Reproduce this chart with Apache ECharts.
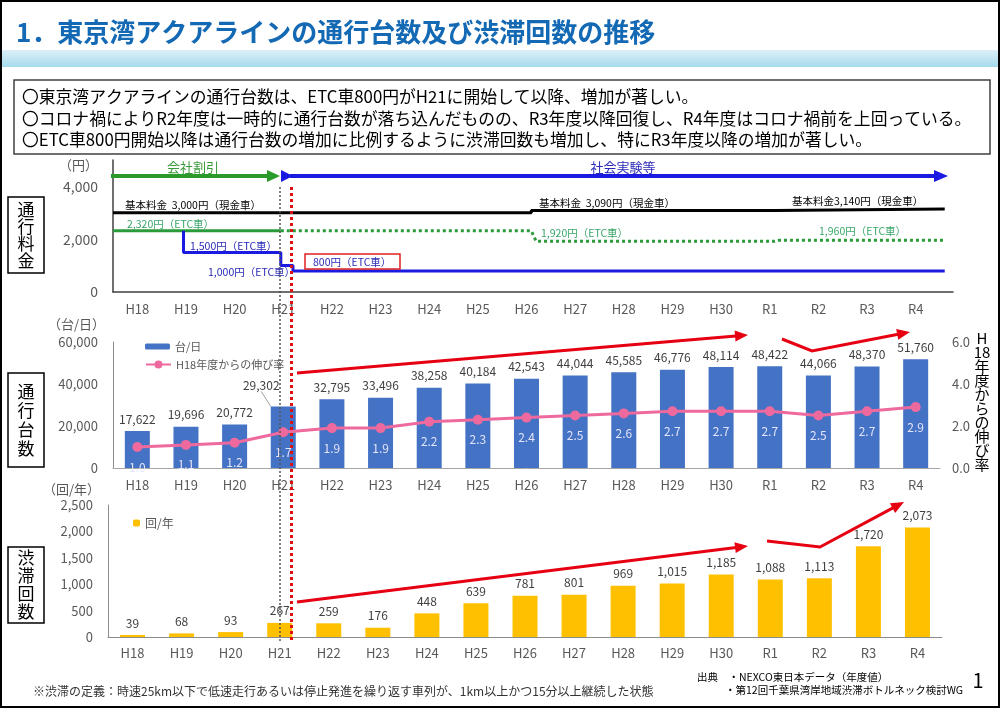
<!DOCTYPE html>
<html><head><meta charset="utf-8">
<script src="https://cdn.jsdelivr.net/npm/echarts@6/dist/echarts.min.js"></script>
<style>html,body{margin:0;padding:0;background:#fff}#c{width:1000px;height:708px}</style>
</head><body><div id="c"></div>
<script>
// ---------- data ----------
const years = ['H18','H19','H20','H21','H22','H23','H24','H25','H26','H27','H28','H29','H30','R1','R2','R3','R4'];
const traffic = [17622,19696,20772,29302,32795,33496,38258,40184,42543,44044,45585,46776,48114,48422,44066,48370,51760];
const growth = [1.0,1.1,1.2,1.7,1.9,1.9,2.2,2.3,2.4,2.5,2.6,2.7,2.7,2.7,2.5,2.7,2.9];
const jams = [39,68,93,267,259,176,448,639,781,801,969,1015,1185,1088,1113,1720,2073];
// toll history: [position on year axis (index), yen]
const tollCash = [[-0.5,3000],[8.1,3000],[8.1,3090],[13.1,3090],[13.1,3140],[16.6,3140]];
const tollEtcSolid = [[-0.5,2320],[2.95,2320]];
const tollEtcDotted = [[2.95,2320],[8.1,2320],[8.2,1920],[13.1,1920],[13.2,1960],[16.6,1960]];
const tollEtcDiscount = [[0.95,2320],[0.95,1500],[2.95,1500],[2.95,1000],[3.2,1000],[3.2,800],[16.6,800]];

const FF = '"Noto Sans CJK JP","Noto Sans",sans-serif';
const GRAY = '#595959';
const fmt = v => Number(v).toLocaleString('en-US');

function arrow(pts, color, w, hl, hw, z) {
  const n = pts.length;
  const [x1,y1] = pts[n-2], [x2,y2] = pts[n-1];
  const dx = x2-x1, dy = y2-y1, L = Math.hypot(dx,dy), ux = dx/L, uy = dy/L;
  const bx = x2-ux*hl, by = y2-uy*hl;
  const line = pts.slice(0,n-1).concat([[bx+ux*1,by+uy*1]]);
  return [
    {type:'polyline', z:z||100, shape:{points:line}, style:{stroke:color, lineWidth:w, fill:null, lineJoin:'miter'}},
    {type:'polygon', z:z||100, shape:{points:[[x2,y2],[bx-uy*hw,by+ux*hw],[bx+uy*hw,by-ux*hw]]}, style:{fill:color}}
  ];
}
function txt(x,y,t,size,color,extra){
  return {type:'text', z:100, x:x, y:y, style:Object.assign({text:t, fontSize:size, fontFamily:FF, fill:color, verticalAlign:'middle', align:'left'}, extra||{})};
}
function vbox(y,h,chars,lh){
  return [
    {type:'rect', z:100, shape:{x:8,y:y,width:36,height:h}, style:{fill:'#fff', stroke:'#000', lineWidth:1.5}},
    {type:'text', z:101, x:26, y:y+h/2, style:{text:chars.split('').join('\n'), fontSize:17, fontFamily:FF, fill:'#000', align:'center', verticalAlign:'middle', lineHeight:lh}}
  ];
}

const graphics = [
  {type:'rect', z:100, shape:{x:1,y:1,width:998,height:706}, style:{fill:'none', stroke:'#000', lineWidth:2}},
  txt(16,32,'1．東京湾アクアラインの通行台数及び渋滞回数の推移',26,'#1469b4',{fontWeight:'bold'}),
  {type:'rect', z:99, shape:{x:2,y:50,width:996,height:17}, style:{fill:new echarts.graphic.LinearGradient(0,0,0,1,[{offset:0,color:'#dcf0f8'},{offset:1,color:'#a6daed'}])}},
  {type:'rect', z:100, shape:{x:14,y:80,width:976,height:74}, style:{fill:'#fff', stroke:'#404040', lineWidth:1.5}},
  txt(22,97,'〇東京湾アクアラインの通行台数は、ETC車800円がH21に開始して以降、増加が著しい。',16.8,'#000'),
  txt(22,118.5,'〇コロナ禍によりR2年度は一時的に通行台数が落ち込んだものの、R3年度以降回復し、R4年度はコロナ禍前を上回っている。',16.8,'#000'),
  txt(22,140,'〇ETC車800円開始以降は通行台数の増加に比例するように渋滞回数も増加し、特にR3年度以降の増加が著しい。',16.8,'#000'),
  ...vbox(197,76,'通行料金',17),
  ...vbox(373,94,'通行台数',19),
  ...vbox(547,76,'渋滞回数',18),
  // unit labels
  txt(98,165,'（円）',13,GRAY,{align:'right'}),
  txt(105,324,'（台/日）',13,GRAY,{align:'right'}),
  txt(100,489,'（回/年）',13,GRAY,{align:'right'}),
  // right axis name
  {type:'text', z:100, x:982, y:401, style:{text:'H\n18\n年\n度\nか\nら\nの\n伸\nび\n率', fontSize:15, fontFamily:FF, fill:'#000', align:'center', verticalAlign:'middle', lineHeight:14}},
  // top arrows
  ...arrow([[111,176],[280,176]],'#2a9a2a',4,13,6),
  {type:'polygon', z:100, shape:{points:[[281,170],[293,176],[281,182]]}, style:{fill:'#1a1ae0'}},
  ...arrow([[290,176],[948,176]],'#1a1ae0',4,14,6),
  txt(193,167,'会社割引',13,'#3a9a3a',{align:'center'}),
  txt(623,167,'社会実験等',13,'#2a2ab8',{align:'center'}),
  // toll annotations
  txt(125,205,'基本料金  3,000円（現金車）',10.5,'#000'),
  txt(127,224,'2,320円（ETC車）',10.5,'#3aa66a'),
  txt(190,246,'1,500円（ETC車）',10.5,'#2a2ab8'),
  txt(208,272,'1,000円（ETC車）',10.5,'#2a2ab8'),
  {type:'rect', z:100, shape:{x:305,y:254,width:95,height:15}, style:{fill:'#fff', stroke:'#e02020', lineWidth:1.5}},
  txt(313,262,'800円（ETC車）',10.5,'#2a2ab8'),
  txt(539,203,'基本料金  3,090円（現金車）',10.5,'#000'),
  txt(792,201,'基本料金3,140円（現金車）',10.5,'#000'),
  txt(541,233,'1,920円（ETC車）',10.5,'#3aa66a'),
  txt(819,231,'1,960円（ETC車）',10.5,'#3aa66a'),
  // separators
  {type:'line', z:100, shape:{x1:280,y1:187,x2:280,y2:641}, style:{stroke:'#555', lineWidth:1.5, lineDash:[2,2]}},
  {type:'line', z:100, shape:{x1:291.5,y1:187,x2:291.5,y2:640}, style:{stroke:'#e01010', lineWidth:3, lineDash:[3,3]}},
  // red trend arrows
  ...arrow([[297,373],[748,335]],'#e60012',3,13,5.5),
  ...arrow([[782,339],[812,351],[910,332]],'#e60012',3,13,5.5),
  ...arrow([[297,602],[748,546]],'#e60012',3,13,5.5),
  ...arrow([[767,541],[820,547],[904,502]],'#e60012',3,13,5.5),
  // footer
  txt(33,691,'※渋滞の定義：時速25km以下で低速走行あるいは停止発進を繰り返す車列が、1km以上かつ15分以上継続した状態',12,'#333'),
  txt(697,677,'出典　・NEXCO東日本データ（年度値）',10.5,'#000'),
  txt(725,690,'・第12回千葉県湾岸地域渋滞ボトルネック検討WG',10.5,'#000'),
  txt(978,680,'1',20,'#000',{align:'center'})
];

const chart = echarts.init(document.getElementById('c'), null, {renderer:'canvas'});
const axLbl = {color:GRAY, fontSize:13, fontFamily:FF};
chart.setOption({
  animation:false,
  backgroundColor:'#fff',
  textStyle:{fontFamily:FF},
  grid:[
    {left:113, top:160, width:827, height:132},
    {left:113, top:160, width:840, height:132},
    {left:113, top:342, width:827, height:126},
    {left:108, top:505, width:834, height:132}
  ],
  xAxis:[
    {gridIndex:0, type:'category', data:years, axisLine:{show:false}, axisTick:{show:false}, axisLabel:Object.assign({margin:11},axLbl)},
    {gridIndex:1, type:'value', min:-0.5, max:16.77, axisLine:{show:true, onZero:false, lineStyle:{color:'#404040', width:1.5}}, axisTick:{show:false}, axisLabel:{show:false}, splitLine:{show:false}},
    {gridIndex:2, type:'category', data:years, axisLine:{lineStyle:{color:'#a6a6a6'}}, axisTick:{show:false}, axisLabel:Object.assign({margin:11},axLbl)},
    {gridIndex:3, type:'category', data:years, axisLine:{lineStyle:{color:'#8c8c8c'}}, axisTick:{show:false}, axisLabel:Object.assign({margin:10},axLbl)}
  ],
  yAxis:[
    {gridIndex:0, type:'value', show:false, min:0, max:5000},
    {gridIndex:1, type:'value', min:0, max:5000, interval:1000, axisLine:{show:true, onZero:false, lineStyle:{color:'#404040', width:1.5}}, axisTick:{show:false}, splitLine:{show:false},
      axisLabel:{margin:15, fontSize:14, color:GRAY, fontFamily:FF, formatter:v => (v%2000===0 ? fmt(v) : '')}},
    {gridIndex:2, type:'value', min:0, max:60000, interval:20000, axisLine:{show:true, onZero:false, lineStyle:{color:'#8c8c8c'}}, axisTick:{show:false}, splitLine:{show:false},
      axisLabel:Object.assign({margin:15, formatter:v => fmt(v)},axLbl)},
    {gridIndex:2, type:'value', position:'right', min:0, max:6, interval:2, axisLine:{show:false}, axisTick:{show:false}, splitLine:{show:false},
      axisLabel:Object.assign({margin:12, formatter:v => v.toFixed(1)},axLbl)},
    {gridIndex:3, type:'value', min:0, max:2500, interval:500, axisLine:{show:true, onZero:false, lineStyle:{color:'#8c8c8c'}}, axisTick:{show:false}, splitLine:{show:false},
      axisLabel:Object.assign({margin:15, formatter:v => fmt(v)},axLbl)}
  ],
  legend:[
    {data:['台/日'], left:140, top:336, itemWidth:25, itemHeight:6, itemGap:4, textStyle:{color:GRAY, fontSize:11, fontFamily:FF}},
    {data:['H18年度からの伸び率'], left:140, top:354, itemWidth:25, itemHeight:10, textStyle:{color:GRAY, fontSize:11, fontFamily:FF}},
    {data:['回/年'], left:128, top:512, itemWidth:7, itemHeight:7, itemGap:4, textStyle:{color:GRAY, fontSize:12, fontFamily:FF}}
  ],
  series:[
    {name:'基本料金', type:'line', xAxisIndex:1, yAxisIndex:1, data:tollCash, symbol:'none', lineStyle:{color:'#000', width:3}, z:3},
    {name:'ETC', type:'line', xAxisIndex:1, yAxisIndex:1, data:tollEtcSolid, symbol:'none', lineStyle:{color:'#2a9a3a', width:3}, z:3},
    {name:'ETC2', type:'line', xAxisIndex:1, yAxisIndex:1, data:tollEtcDotted, symbol:'none', lineStyle:{color:'#2a9a3a', width:3, type:[3,3]}, z:3},
    {name:'ETC割引', type:'line', xAxisIndex:1, yAxisIndex:1, data:tollEtcDiscount, symbol:'none', lineStyle:{color:'#1a1ae0', width:3}, z:4},
    {name:'台/日', type:'bar', xAxisIndex:2, yAxisIndex:2, barWidth:25, itemStyle:{color:'#4472c4'},
      data: traffic.map((v,i) => i===3 ? {value:v, labelLine:{show:true, lineStyle:{color:'#a0a0a0', width:1}}} : v),
      label:{show:true, position:'top', distance:6, color:'#404040', fontSize:12, fontFamily:FF, formatter:p => fmt(p.value)},
      labelLayout: p => (p.dataIndex===3 ? {dx:-22, dy:-9} : null)},
    {name:'H18年度からの伸び率', type:'line', xAxisIndex:2, yAxisIndex:3, data:growth, symbol:'circle', symbolSize:10,
      itemStyle:{color:'#ee6a9e'}, lineStyle:{color:'#ee6a9e', width:3}, z:5,
      label:{show:true, position:'bottom', distance:9, color:'#e4e4fb', fontSize:12, fontFamily:FF, formatter:p => p.value.toFixed(1)}},
    {name:'回/年', type:'bar', xAxisIndex:3, yAxisIndex:4, barWidth:25, itemStyle:{color:'#ffc000'}, data:jams,
      label:{show:true, position:'top', distance:6, color:'#404040', fontSize:12, fontFamily:FF, formatter:p => fmt(p.value)}}
  ],
  graphic:graphics
});
</script></body></html>
